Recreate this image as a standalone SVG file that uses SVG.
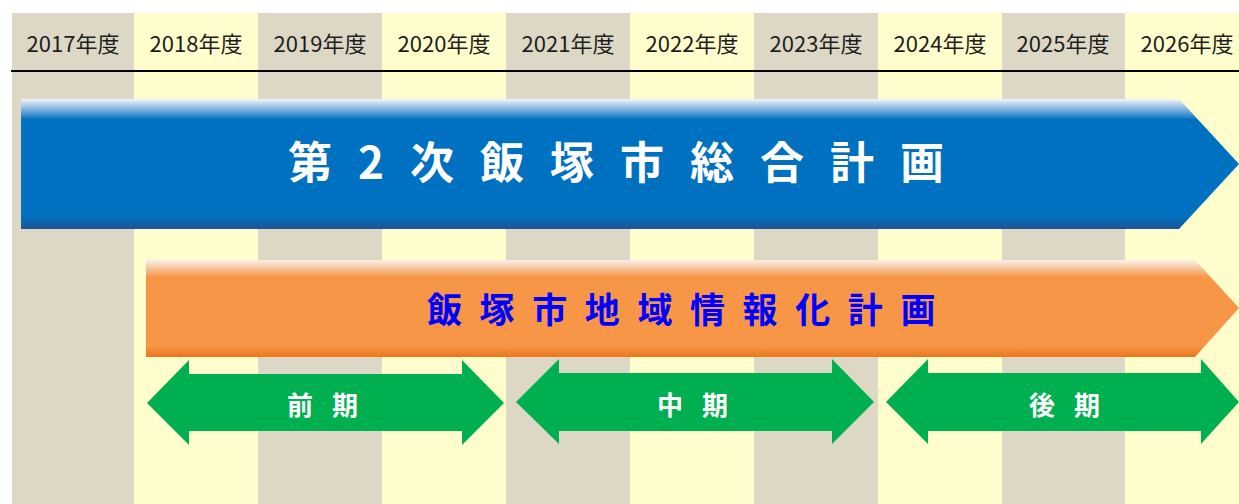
<svg xmlns="http://www.w3.org/2000/svg" width="1239" height="504" viewBox="0 0 1239 504">
  <defs>
    <linearGradient id="gBlue" x1="0" y1="0" x2="0" y2="1">
      <stop offset="0" stop-color="#F2F6FB"/>
      <stop offset="0.07" stop-color="#8DBBE2"/>
      <stop offset="0.16" stop-color="#0070C0"/>
      <stop offset="0.9" stop-color="#0070C0"/>
      <stop offset="1" stop-color="#1D5594"/>
    </linearGradient>
    <linearGradient id="gOrange" x1="0" y1="0" x2="0" y2="1">
      <stop offset="0" stop-color="#F7F2EE"/>
      <stop offset="0.08" stop-color="#F8C79F"/>
      <stop offset="0.18" stop-color="#F79646"/>
      <stop offset="0.88" stop-color="#F79646"/>
      <stop offset="1" stop-color="#E8761C"/>
    </linearGradient>
    <style>
      .beige { fill: #DDD8C6; }
      .yellow { fill: #FFFDCC; }
      .year { font-family: "Noto Sans CJK JP", "Noto Sans", sans-serif; font-size: 22px; fill: #1E1E1E; text-anchor: middle; }
      .title { font-family: "Noto Sans CJK JP", "Noto Sans", sans-serif; font-weight: bold; }
      .period { fill: #00B050; }
      .plabel { font-family: "Noto Sans CJK JP", sans-serif; font-weight: bold; font-size: 26px; fill: #FFFFFF; }
    </style>
  </defs>

  <rect x="0" y="0" width="1239" height="504" fill="#FFFFFF"/>

  <g id="columns">
    <rect class="beige" x="12" y="13" width="122" height="491"/>
    <rect class="yellow" x="134" y="13" width="124" height="491"/>
    <rect class="beige" x="258" y="13" width="124" height="491"/>
    <rect class="yellow" x="382" y="13" width="124" height="491"/>
    <rect class="beige" x="506" y="13" width="124" height="491"/>
    <rect class="yellow" x="630" y="13" width="124" height="491"/>
    <rect class="beige" x="754" y="13" width="124" height="491"/>
    <rect class="yellow" x="878" y="13" width="124" height="491"/>
    <rect class="beige" x="1002" y="13" width="123" height="491"/>
    <rect class="yellow" x="1125" y="13" width="114" height="491"/>
  </g>

  <g id="years">
    <text class="year" x="73" y="52">2017年度</text>
    <text class="year" x="196" y="52">2018年度</text>
    <text class="year" x="320" y="52">2019年度</text>
    <text class="year" x="444" y="52">2020年度</text>
    <text class="year" x="568" y="52">2021年度</text>
    <text class="year" x="692" y="52">2022年度</text>
    <text class="year" x="816" y="52">2023年度</text>
    <text class="year" x="940" y="52">2024年度</text>
    <text class="year" x="1063" y="52">2025年度</text>
    <text class="year" x="1187" y="52">2026年度</text>
  </g>

  <line x1="11" y1="71" x2="1239" y2="71" stroke="#000000" stroke-width="2"/>

  <g id="plan-main">
    <polygon points="21,99 1179,99 1239,164 1179,229 21,229" fill="url(#gBlue)"/>
    <text class="title" x="288" y="179" font-size="44" fill="#FFFFFF" letter-spacing="26">第2次飯塚市総合計画</text>
  </g>

  <g id="plan-info">
    <polygon points="146,260 1195,260 1239,308 1195,357 146,357" fill="url(#gOrange)"/>
    <text class="title" x="427" y="323" font-size="35" fill="#0000FF" letter-spacing="17.6">飯塚市地域情報化計画</text>
  </g>

  <g id="period-early">
    <polygon class="period" points="147,403 189,360 189,374 462,374 462,360 504,403 462,445 462,431 189,431 189,445"/>
    <text class="plabel" x="287 332" y="415">前期</text>
  </g>

  <g id="period-middle">
    <polygon class="period" points="516,402 559,359 559,373 832,373 832,359 874,402 832,444 832,431 559,431 559,444"/>
    <text class="plabel" x="657 702" y="415">中期</text>
  </g>

  <g id="period-late">
    <polygon class="period" points="886,402 928,359 928,373 1201,373 1201,359 1239,402 1201,444 1201,431 928,431 928,444"/>
    <text class="plabel" x="1029 1074" y="415">後期</text>
  </g>

  <g id="connectors"></g>
</svg>
